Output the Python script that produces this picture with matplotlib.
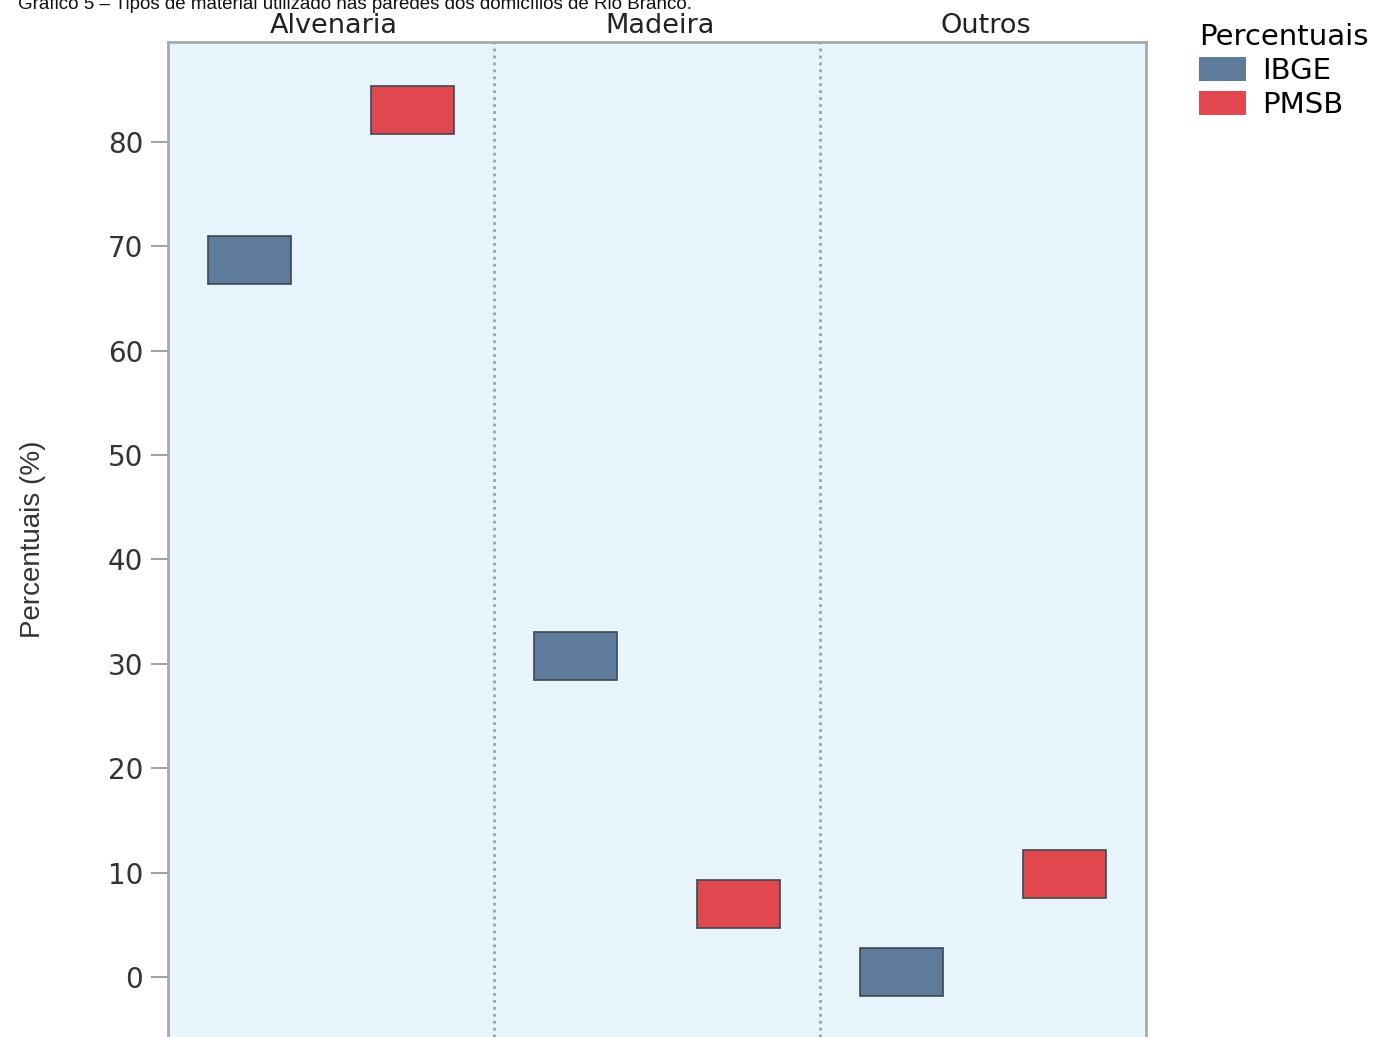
import matplotlib
matplotlib.use('Agg')
import matplotlib.pyplot as plt
from matplotlib.patches import Patch

# dados: percentuais por tipo de material das paredes
categorias = ['Alvenaria', 'Madeira', 'Outros']
ibge = [68.7, 30.8, 0.5]
pmsb = [83.1, 7.0, 9.9]
fontes = ['IBGE', 'PMSB']
cores = ['#5f7b9b', '#e0484d']
yticks = [0, 10, 20, 30, 40, 50, 60, 70, 80]

plt.rcParams['font.family'] = ['DejaVu Sans']

fig = plt.figure(figsize=(14, 10.37), dpi=100)
ax = fig.add_axes([168/1400, 0, (1146-168)/1400, 1 - 42/1037])
ax.set_facecolor('#e8f4fb')

alt = 4.6      # altura de cada caixa
larg = 0.255   # largura de cada caixa
for i, cat in enumerate(categorias):
    for j, (vals, cor) in enumerate(zip([ibge, pmsb], cores)):
        x = i + 0.25 + 0.5 * j
        ax.bar(x, alt, bottom=vals[i] - alt/2, width=larg, color=cor,
               edgecolor='#3f4650', linewidth=1.2, zorder=3)
    ax.text(i + 0.51, 1.009, cat, transform=ax.get_xaxis_transform(),
            ha='center', va='baseline', fontsize=19.5, color='#222222')

# separadores entre facetas
for xs in [1, 2]:
    ax.axvline(xs, color='#9aa0a6', linestyle=(0, (1, 1.5)), linewidth=2, zorder=1)

ax.set_xlim(0, 3)
ax.set_ylim(-5.75, 89.58)
ax.set_xticks([])
ax.set_yticks(yticks)
ax.tick_params(axis='y', length=12, width=1.2, color='#909090', labelsize=20,
               labelcolor='#333333', pad=6)
for lado in ['left', 'top', 'right']:
    ax.spines[lado].set_color('#a8a8a8')
    ax.spines[lado].set_linewidth(2)
ax.spines['bottom'].set_visible(False)

ax.set_ylabel('Percentuais (%)', fontsize=20, color='#333333',
              family=['Liberation Sans'], labelpad=44)

fig.text(0.013, 1 - 9/1037, 'Gráfico 5 – Tipos de material utilizado nas paredes dos domicílios de Rio Branco.',
         fontsize=13.5, family=['Liberation Sans'], ha='left', va='baseline', color='#111111')

handles = [Patch(facecolor=c, edgecolor='none', label=f) for f, c in zip(fontes, cores)]
leg = fig.legend(handles=handles, title='Percentuais', loc='upper left',
                 bbox_to_anchor=(1176/1400, 1 - 0/1037), frameon=False,
                 fontsize=21, title_fontsize=21, handlelength=1.6, handleheight=0.9,
                 handletextpad=0.55, labelspacing=0.2, borderpad=0.3)
leg._legend_box.align = 'left'

fig.savefig('out.png', dpi=100)
